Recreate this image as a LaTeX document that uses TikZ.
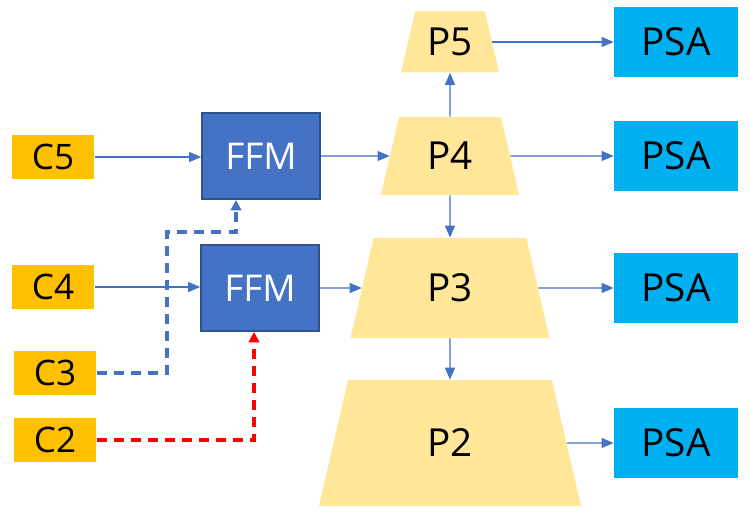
\documentclass[tikz,border=0pt]{standalone}
\usepackage{fontspec}
\setmainfont{Open Sans}
\usetikzlibrary{arrows.meta,shapes.geometric}

\definecolor{cgold}{HTML}{FFC000}
\definecolor{plight}{HTML}{FFE699}
\definecolor{ffmblue}{HTML}{4472C4}
\definecolor{ffmedge}{HTML}{2F528F}
\definecolor{psablue}{HTML}{00B0F0}
\definecolor{linkblue}{HTML}{4472C4}
\definecolor{skipred}{HTML}{FF0000}

\tikzset{
  cbox/.style={fill=cgold, minimum width=1.66cm, minimum height=0.88cm, inner sep=0pt, font=\fontsize{20}{24}\selectfont},
  ffmbox/.style={fill=ffmblue, draw=ffmedge, line width=1pt, minimum width=2.36cm, minimum height=1.72cm, inner sep=0pt, text=white, font=\fontsize{21}{25}\selectfont},
  psabox/.style={fill=psablue, minimum width=2.48cm, minimum height=1.4cm, inner sep=0pt, font=\fontsize{22}{26}\selectfont},
  level/.style={trapezium, trapezium stretches body=true, trapezium left angle=77, trapezium right angle=77, fill=plight, inner xsep=0pt, text height=0.55cm, text depth=0cm, font=\fontsize{22}{26}\selectfont},
  link/.style={draw=linkblue, line width=0.6pt, -{Triangle[length=0.24cm, width=0.2cm]}},
  skip/.style={line width=1.8pt, dash pattern=on 5.7pt off 4pt, -{Triangle[length=0.21cm, width=0.21cm]}}
}

\begin{document}
\begin{tikzpicture}[x=0.02cm, y=-0.02cm]
    \useasboundingbox (0,0) rectangle (750,516);

    % Backbone features
    \node[cbox] (C5) at (53,157) {C5};
    \node[cbox] (C4) at (53,287) {C4};
    \node[cbox] (C3) at (55,373) {C3};
    \node[cbox] (C2) at (55,440) {C2};

    % Fusion modules
    \node[ffmbox] (FFMa) at (261,156) {FFM};
    \node[ffmbox] (FFMb) at (260,288) {FFM};

    % Pyramid levels
    \node[level, minimum width=1.96cm, inner ysep=0.335cm] (P5) at (450,42) {P5};
    \node[level, minimum width=2.76cm, inner ysep=0.505cm] (P4) at (450,156) {P4};
    \node[level, minimum width=3.98cm, inner ysep=0.725cm] (P3) at (450,288) {P3};
    \node[level, minimum width=5.24cm, inner ysep=0.985cm] (P2) at (450,443) {P2};

    % Heads
    \node[psabox] (PSAa) at (676,42) {PSA};
    \node[psabox] (PSAb) at (676,156) {PSA};
    \node[psabox] (PSAc) at (676,288) {PSA};
    \node[psabox] (PSAd) at (676,443) {PSA};

    % Main connections
    \draw[link] (C5.east) -- (C5.east -| FFMa.west);
    \draw[link] (C4.east) -- (C4.east -| FFMb.west);
    \draw[link] (FFMa.east) -- (P4.west);
    \draw[link] (FFMb.east) -- (P3.west);
    \draw[link] (P4.north) -- (P5.south);
    \draw[link] (P4.south) -- (P3.north);
    \draw[link] (P3.south) -- (P2.north);
    \draw[link] (P5.east) -- (PSAa.west);
    \draw[link] (P4.east) -- (PSAb.west);
    \draw[link] (P3.east) -- (PSAc.west);
    \draw[link] (P2.east) -- (PSAd.west);

    % Skip connections
    \coordinate (bend) at (167,232);
    \draw[skip, draw=linkblue] (C3.east) -| (bend) -| ([xshift=-0.5cm]FFMa.south);
    \draw[skip, draw=skipred] (C2.east) -| ([xshift=-0.12cm]FFMb.south);
\end{tikzpicture}
\end{document}
